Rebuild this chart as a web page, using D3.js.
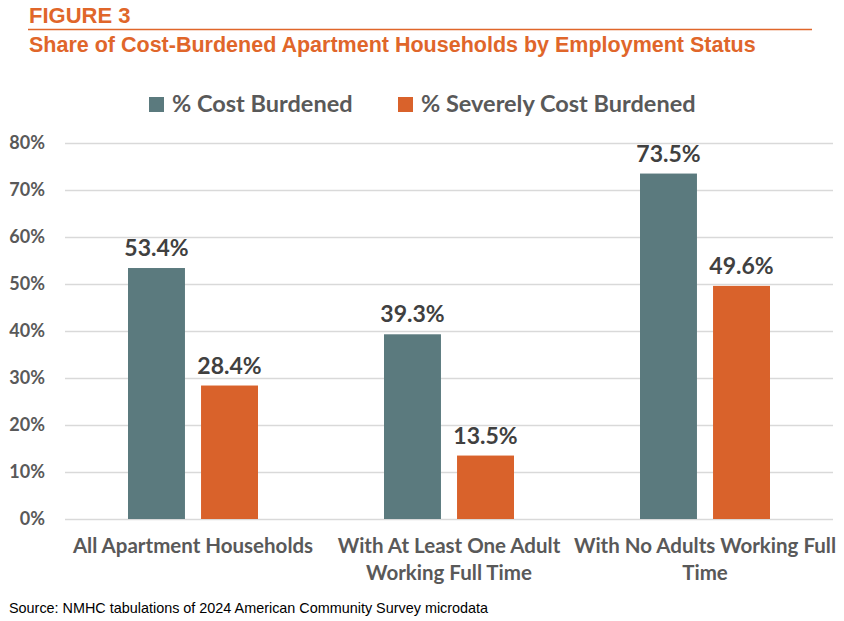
<!DOCTYPE html>
<html>
<head>
<meta charset="utf-8">
<script src="https://cdn.jsdelivr.net/npm/d3@7"></script>
<style>
  body { margin: 0; background: #fff; }
  svg text { font-family: Lato, "Open Sans", sans-serif; }
</style>
</head>
<body>
<div id="chart"></div>
<script>
const categories = [
  "All Apartment Households",
  "With At Least One Adult Working Full Time",
  "With No Adults Working Full Time"
];
const series = ["% Cost Burdened", "% Severely Cost Burdened"];
const costBurdened = [53.4, 39.3, 73.5];
const severelyBurdened = [28.4, 13.5, 49.6];
const yTicks = [0, 10, 20, 30, 40, 50, 60, 70, 80];

const svgWidth = 844;
const svgHeight = 621;
const margin = { top: 143, right: 11, bottom: 102, left: 65 };
const width = svgWidth - margin.left - margin.right;
const height = svgHeight - margin.top - margin.bottom;

const color = d3.scaleOrdinal()
  .domain(series)
  .range(["#5b7a7e", "#d9622b"]);

const svg = d3.select("#chart").append("svg")
  .attr("width", svgWidth)
  .attr("height", svgHeight);

// header
svg.append("text")
  .attr("x", 29).attr("y", 23)
  .attr("fill", "#e0662a")
  .style("font-family", "'Liberation Sans', Arial, sans-serif")
  .style("font-weight", "bold")
  .style("font-size", "22px")
  .text("FIGURE 3");

svg.append("line")
  .attr("x1", 28).attr("x2", 812)
  .attr("y1", 29.5).attr("y2", 29.5)
  .attr("stroke", "#e0662a")
  .attr("stroke-width", 1.5);

svg.append("text")
  .attr("x", 29).attr("y", 52)
  .attr("fill", "#e0662a")
  .style("font-family", "'Liberation Sans', Arial, sans-serif")
  .style("font-weight", "bold")
  .style("font-size", "21.5px")
  .text("Share of Cost-Burdened Apartment Households by Employment Status");

const chart = svg.append("g")
  .attr("transform", `translate(${margin.left},${margin.top})`);

const x0 = d3.scaleBand()
  .domain(categories)
  .range([0, width]);

const x1 = d3.scaleBand()
  .domain(series)
  .range([x0.bandwidth() / 2 - 65, x0.bandwidth() / 2 + 65])
  .paddingInner(0.22);

const y = d3.scaleLinear()
  .domain([0, 80])
  .range([height, 0]);

// gridlines + y labels
const yAxis = chart.append("g")
  .call(d3.axisLeft(y).tickValues(yTicks).tickSize(-width).tickFormat(d => d + "%"));
yAxis.select(".domain").remove();
yAxis.selectAll(".tick line")
  .attr("stroke", "#d9d9d9")
  .attr("stroke-width", 1.5);
yAxis.selectAll(".tick text")
  .attr("x", -20)
  .attr("fill", "#595959")
  .style("font-size", "18px")
  .style("font-weight", "bold");

const rows = categories.map((c, i) => ({
  category: c,
  values: [
    { key: series[0], value: costBurdened[i] },
    { key: series[1], value: severelyBurdened[i] }
  ]
}));

const groups = chart.selectAll(".group")
  .data(rows)
  .join("g")
  .attr("class", "group")
  .attr("transform", d => `translate(${x0(d.category)},0)`);

groups.selectAll("rect")
  .data(d => d.values)
  .join("rect")
  .attr("x", d => x1(d.key))
  .attr("width", x1.bandwidth())
  .attr("y", d => y(d.value))
  .attr("height", d => y(0) - y(d.value))
  .attr("fill", d => color(d.key));

groups.selectAll(".value")
  .data(d => d.values)
  .join("text")
  .attr("class", "value")
  .attr("x", d => x1(d.key) + x1.bandwidth() / 2)
  .attr("y", d => y(d.value) - 12)
  .attr("text-anchor", "middle")
  .attr("fill", "#404040")
  .style("font-size", "23px")
  .style("font-weight", "bold")
  .text(d => d.value.toFixed(1) + "%");

// category labels, wrapped to the band width
const catLabels = chart.selectAll(".cat")
  .data(categories)
  .join("text")
  .attr("class", "cat")
  .attr("text-anchor", "middle")
  .attr("fill", "#595959")
  .style("font-size", "20.5px")
  .style("font-weight", "bold")
  .attr("transform", d => `translate(${x0(d) + x0.bandwidth() / 2},${height + 34})`);

catLabels.each(function (d) {
  const el = d3.select(this);
  const words = d.split(" ");
  let line = [];
  let tspan = el.append("tspan").attr("x", 0).attr("dy", 0);
  words.forEach(w => {
    line.push(w);
    tspan.text(line.join(" "));
    if (tspan.node().getComputedTextLength() > 268 && line.length > 1) {
      line.pop();
      tspan.text(line.join(" "));
      line = [w];
      tspan = el.append("tspan").attr("x", 0).attr("dy", "27px").text(w);
    }
  });
});

// legend
const legend = svg.append("g")
  .attr("transform", "translate(149,97)");

const legendX = [0, 249];
series.forEach((s, i) => {
  legend.append("rect")
    .attr("x", legendX[i]).attr("y", 0)
    .attr("width", 15).attr("height", 15)
    .attr("fill", color(s));
  legend.append("text")
    .attr("x", legendX[i] + 23).attr("y", 15)
    .attr("fill", "#595959")
    .style("font-size", "23.5px")
    .style("font-weight", "bold")
    .text(s);
});

// source
svg.append("text")
  .attr("x", 9).attr("y", 613)
  .attr("fill", "#000")
  .style("font-family", "'Liberation Sans', Arial, sans-serif")
  .style("font-size", "14.4px")
  .text("Source: NMHC tabulations of 2024 American Community Survey microdata");
</script>
</body>
</html>
